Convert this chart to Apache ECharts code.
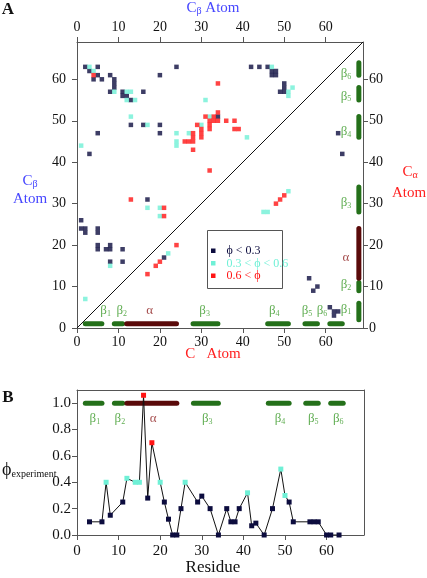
<!DOCTYPE html>
<html><head><meta charset="utf-8">
<script src="https://cdn.jsdelivr.net/npm/echarts@6/dist/echarts.min.js"></script>
<style>html,body{margin:0;padding:0;background:#fff}#c{width:427px;height:578px}</style>
</head><body><div id="c"></div><script>
// ---------- data ----------
const tickValsA = [0,10,20,30,40,50,60];
const tickValsBx = [0,10,20,30,40,50,60];
const tickValsBy = [0,0.2,0.4,0.6,0.8,1.0];

// Panel A contact points [residue i, residue j]
const darkPts = [[2,63],[5,63],[3,62],[5,61],[4,60],[6,60],[8,61],[9,60],[9,59],[9,58],[8,57],[11,57],[11,56],[12,56],[13,55],[16,57],[20,61],[24,63],[13,49],[16,49],[20,49],[5,47],[20,47],[3,42],
 [42,63],[44,63],[46,63],[47,62],[48,62],[47,61],[48,61],[50,59],[50,58],[49,57],[50,57],[34,51],[63,47],[64,42],
 [17,31],[1,26],[1,24],[2,24],[2,23],[5,24],[5,23],[5,20],[5,19],[7,19],[8,20],[8,19],[11,19],[8,16],[11,16],[21,17],
 [56,12],[58,10],[57,9],[61,5],[62,4],[63,4],[62,3]];
const cyanPts = [[3,63],[4,62],[9,57],[12,57],[13,57],[12,55],[14,55],[13,51],[17,49],[24,47],[27,47],[1,44],
 [47,63],[51,57],[52,58],[51,56],[31,55],[32,51],[30,49],[24,45],[24,44],[41,46],
 [17,29],[20,29],[20,27],[22,18],[8,15],[2,7],[45,28],[46,28],[51,33]];
const redPts = [[4,61],[34,59],[34,52],[31,51],[33,51],[32,50],[33,50],[34,50],[36,50],[38,50],[29,49],[32,49],[30,48],[32,48],[38,48],[39,48],[28,47],[30,47],[28,46],[30,46],[26,45],[27,45],[28,45],[28,43],[32,38],
 [13,31],[21,29],[21,27],[24,20],[20,16],[19,15],[17,13],[48,30],[49,31],[50,32]];

// secondary structure
const ssSym = ['β','β','α','β','β','β','β'];
const ssSub = ['1','2','','3','4','5','6'];
const ssStart = [2,9,12,28,46,55,61];
const ssEnd = [6,11,24,34,51,58,64];
const labelBottomX = [6.9,10.8,17.5,30.8,47.6,55.5,59.1];
const labelRightY = [4.5,10.4,17.1,30.2,47.3,55.9,61.3];

// Panel B
const residues = [3,6,7,8,11,12,14,15,16,17,18,20,21,22,23,24,25,26,29,30,32,34,36,37,38,39,41,42,43,45,47,49,50,51,52,56,57,58,60,61,63];
const phiExp = [0.1,0.1,0.4,0.15,0.25,0.43,0.4,0.4,1.06,0.28,0.7,0.4,0.25,0.12,0,0,0.2,0.4,0.25,0.295,0.2,0,0.2,0.1,0.1,0.2,0.32,0.07,0.09,0,0.2,0.5,0.3,0.25,0.1,0.1,0.1,0.1,0,0,0];

// ---------- style ----------
const FONT = 'Liberation Serif';
const C_DARK = '#0c0c3e', C_CYAN = '#6ff0d6', C_RED = '#ff1414';
const C_GREEN = '#24701a', C_GREEN_T = '#3a9a28', C_MAROON = '#5a0a0a', C_MAROON_T = '#8c1c1c';
const AXC = '#555';
const phiColor = v => v > 0.6 ? C_RED : (v >= 0.3 ? C_CYAN : C_DARK);

const chart = echarts.init(document.getElementById('c'), null, {renderer:'canvas'});

function axis(gridIndex, position, min, max, ticks, showLabels, margin, fmt, fs) {
  return {
    type:'value', gridIndex, position, min, max,
    axisLine:{show:true, onZero:false, lineStyle:{color:AXC, width:1}},
    axisTick:{show:showLabels, inside:false, length:5, customValues:ticks, lineStyle:{color:AXC}},
    axisLabel:{show:showLabels, customValues:ticks, margin, color:'#111', fontFamily:FONT, fontSize:fs||14,
      formatter: fmt || (v => String(v))},
    splitLine:{show:false}
  };
}

const series = [];
const sc = (data, color) => ({type:'scatter', xAxisIndex:0, yAxisIndex:0, data, symbol:'rect', symbolSize:4.5,
  itemStyle:{color}, z:5, silent:true});
series.push(sc(darkPts, C_DARK), sc(cyanPts, C_CYAN), sc(redPts, C_RED));
series.push({type:'line', xAxisIndex:0, yAxisIndex:0, data:[[0,0],[69,69]], symbol:'none',
  lineStyle:{color:'#111', width:1}, silent:true, z:3});

const ssCol = i => ssSym[i] === 'α' ? C_MAROON : C_GREEN;
const ssTxtCol = i => ssSym[i] === 'α' ? C_MAROON_T : C_GREEN_T;
for (let i = 0; i < ssStart.length; i++) {
  const base = {type:'line', symbol:'none', silent:true, z:4, lineStyle:{color:ssCol(i), width:5, cap:'round'}};
  series.push(Object.assign({}, base, {xAxisIndex:0, yAxisIndex:0, data:[[ssStart[i],1],[ssEnd[i],1]]}));
  series.push(Object.assign({}, base, {xAxisIndex:0, yAxisIndex:0, data:[[68,ssStart[i]],[68,ssEnd[i]]]}));
  series.push(Object.assign({}, base, {xAxisIndex:2, yAxisIndex:2, data:[[ssStart[i],1],[ssEnd[i],1]]}));
}
const lab = (i) => ({show:true, position:'inside', formatter:'{m|' + ssSym[i] + '}{s|' + ssSub[i] + '}',
  rich:{m:{fontFamily:FONT, fontSize:13, color:ssTxtCol(i)}, s:{fontFamily:FONT, fontSize:8, color:ssTxtCol(i), verticalAlign:'bottom', padding:[6,0,0,0]}}});
const labDataA1 = [], labDataA2 = [], labDataB = [];
for (let i = 0; i < ssStart.length; i++) {
  labDataA1.push({value:[labelBottomX[i], 4.2], label:lab(i)});
  labDataA2.push({value:[64.9, labelRightY[i]], label:lab(i)});
  labDataB.push({value:[(ssStart[i]+ssEnd[i])/2 + 0.3, 0.88], label:lab(i)});
}
series.push({type:'scatter', xAxisIndex:0, yAxisIndex:0, symbolSize:0, data:labDataA1, silent:true, z:6});
series.push({type:'scatter', xAxisIndex:0, yAxisIndex:0, symbolSize:0, data:labDataA2, silent:true, z:6});
series.push({type:'scatter', xAxisIndex:2, yAxisIndex:2, symbolSize:0, data:labDataB, silent:true, z:6});

series.push({type:'line', xAxisIndex:2, yAxisIndex:2, symbol:'rect', symbolSize:5, z:7, silent:true,
  lineStyle:{color:'#111', width:1},
  data: residues.map((r, k) => ({value:[r, phiExp[k]], itemStyle:{color:phiColor(phiExp[k])}}))});

const txt = (x, y, text, font, fill, align, extra) => ({type:'text', x, y, silent:true,
  style:Object.assign({text, font, fill, align:align||'center', verticalAlign:'middle'}, extra||{})});

const option = {
  animation:false,
  backgroundColor:'#fff',
  grid:[
    {left:77, top:42, width:286, height:286},
    {left:77, top:390, width:287, height:145}
  ],
  xAxis:[
    axis(0,'bottom',0,69,tickValsA,true,7),
    axis(0,'top',0,69,tickValsA,true,8),
    axis(1,'bottom',0,69,tickValsBx,true,9,null,15),
    axis(1,'top',0,69,[],false,0)
  ],
  yAxis:[
    axis(0,'left',0,69,tickValsA,true,11),
    axis(0,'right',0,69,tickValsA,true,6),
    axis(1,'left',0,1.1,tickValsBy,true,6,v=>v.toFixed(1),15),
    axis(1,'right',0,1.1,[],false,0)
  ],
  series,
  graphic:[
    txt(8,10,'A','bold 17px '+FONT,'#111'),
    txt(8,398,'B','bold 17px '+FONT,'#111'),
    {type:'text', x:213, y:8, silent:true, style:{text:'{m|C}{s|β}{m| Atom}', align:'center', verticalAlign:'middle',
      rich:{m:{font:'15px '+FONT, fill:'#4646ff'}, s:{font:'10px '+FONT, fill:'#4646ff', padding:[7,0,0,0]}}}},
    {type:'text', x:30, y:181, silent:true, style:{text:'{m|C}{s|β}', align:'center', verticalAlign:'middle',
      rich:{m:{font:'15px '+FONT, fill:'#4646ff'}, s:{font:'10px '+FONT, fill:'#4646ff', padding:[7,0,0,0]}}}},
    txt(30,199,'Atom','15px '+FONT,'#4646ff'),
    {type:'text', x:410, y:172, silent:true, style:{text:'{m|C}{s|α}', align:'center', verticalAlign:'middle',
      rich:{m:{font:'15px '+FONT, fill:'#ff2020'}, s:{font:'10px '+FONT, fill:'#ff2020', padding:[7,0,0,0]}}}},
    txt(409,193,'Atom','15px '+FONT,'#ff2020'),
    txt(213,354,'C   Atom','15px '+FONT,'#ff2020'),
    txt(213,568,'Residue','17px '+FONT,'#111'),
    {type:'text', x:2, y:470, silent:true, style:{text:'{m|ϕ}{s|experiment}', align:'left', verticalAlign:'middle',
      rich:{m:{font:'18px '+FONT, fill:'#111'}, s:{font:'10px '+FONT, fill:'#111', padding:[8,0,0,0]}}}},
    // legend box
    {type:'rect', silent:true, shape:{x:207.5, y:230.5, width:75, height:58}, style:{fill:'none', stroke:AXC, lineWidth:1}},
    {type:'rect', silent:true, shape:{x:211, y:248.5, width:4.5, height:4.5}, style:{fill:C_DARK}},
    {type:'rect', silent:true, shape:{x:211, y:261, width:4.5, height:4.5}, style:{fill:C_CYAN}},
    {type:'rect', silent:true, shape:{x:211, y:273.5, width:4.5, height:4.5}, style:{fill:C_RED}},
    txt(226.5,251,'ϕ < 0.3','12px '+FONT,C_DARK,'left'),
    txt(226.5,263.5,'0.3 < ϕ < 0.6','12px '+FONT,C_CYAN,'left'),
    txt(226.5,276,'0.6 < ϕ','12px '+FONT,C_RED,'left')
  ]
};
chart.setOption(option);
</script></body></html>
